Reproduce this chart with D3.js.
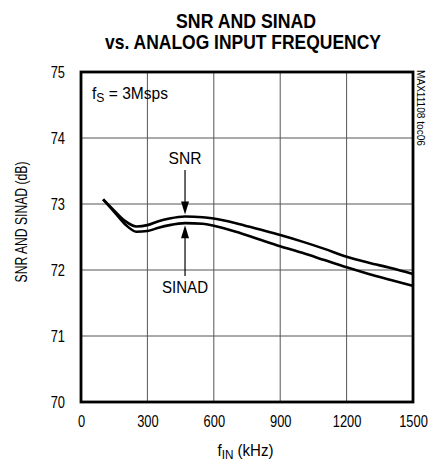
<!DOCTYPE html>
<html><head><meta charset="utf-8">
<script src="https://cdn.jsdelivr.net/npm/d3@7/dist/d3.min.js"></script>
<style>
body{margin:0;background:#fff;}
text{font-family:"Liberation Sans",Arial,sans-serif;fill:#000;}
</style></head><body>
<svg id="c" width="430" height="461"></svg>
<script>
const freqs = [100, 150, 200, 250, 300, 350, 400, 470, 550, 600, 700, 800, 900, 1000, 1100, 1200, 1300, 1400, 1500];
const snr   = [73.07, 72.9, 72.74, 72.66, 72.68, 72.74, 72.78, 72.81, 72.8, 72.78, 72.71, 72.62, 72.53, 72.43, 72.32, 72.2, 72.11, 72.03, 71.94];
const sinad = [73.07, 72.88, 72.69, 72.58, 72.59, 72.64, 72.68, 72.71, 72.7, 72.67, 72.58, 72.47, 72.36, 72.26, 72.15, 72.04, 71.94, 71.85, 71.76];
const xTicks = [0, 300, 600, 900, 1200, 1500];
const yTicks = [70, 71, 72, 73, 74, 75];

const K = 0.78; // narrow-font emulation for tick digits
const svg = d3.select("#c");
const L = 81, R = 413, T = 72, B = 402;
const x = d3.scaleLinear().domain([0, 1500]).range([L, R]);
const y = d3.scaleLinear().domain([70, 75]).range([B, T]);

// text of a given overall width (condensed font emulation)
function label(px, py, size, width, anchor, rot, build) {
  const t = svg.append("text").attr("text-anchor", anchor).attr("font-size", size);
  build(t);
  const w = t.node().getComputedTextLength();
  const k = width / w;
  t.attr("transform", `translate(${px},${py})${rot ? ` rotate(${rot})` : ""} scale(${k},1)`);
  return t;
}

// grid
svg.append("g").selectAll("line").data(xTicks.slice(1, -1)).join("line")
  .attr("x1", d => x(d)).attr("x2", d => x(d)).attr("y1", T).attr("y2", B)
  .attr("stroke", "#555").attr("stroke-width", 1);
svg.append("g").selectAll("line").data(yTicks.slice(1, -1)).join("line")
  .attr("x1", L).attr("x2", R).attr("y1", d => y(d)).attr("y2", d => y(d))
  .attr("stroke", "#555").attr("stroke-width", 1);

// axes labels via d3 axes (no lines)
const xa = svg.append("g").attr("transform", `translate(0,${B})`)
  .call(d3.axisBottom(x).tickValues(xTicks).tickFormat(d3.format("d")).tickSize(0).tickPadding(13));
xa.select(".domain").remove();
xa.selectAll("text").attr("font-size", 16.5).style("font-family", null).attr("transform", `scale(${K},1)`);
const ya = svg.append("g").attr("transform", `translate(${L},0)`)
  .call(d3.axisLeft(y).tickValues(yTicks).tickFormat(d3.format("d")).tickSize(0));
ya.select(".domain").remove();
ya.selectAll("text").attr("font-size", 16.5).style("font-family", null)
  .attr("x", -16 / K).attr("transform", `scale(${K},1)`);

// curves
const line = d3.line().x(d => x(d[0])).y(d => y(d[1])).curve(d3.curveMonotoneX);
svg.append("path").datum(freqs.map((f, i) => [f, snr[i]])).attr("d", line)
  .attr("fill", "none").attr("stroke", "#000").attr("stroke-width", 2.6);
svg.append("path").datum(freqs.map((f, i) => [f, sinad[i]])).attr("d", line)
  .attr("fill", "none").attr("stroke", "#000").attr("stroke-width", 2.6);

// frame
svg.append("rect").attr("x", L).attr("y", T).attr("width", R - L).attr("height", B - T)
  .attr("fill", "none").attr("stroke", "#000").attr("stroke-width", 2.8);

// annotations
const ax = 470;
const ySnr = y(72.81) - 2, ySin = y(72.71) + 2;
svg.append("line").attr("x1", x(ax)).attr("x2", x(ax)).attr("y1", 170).attr("y2", ySnr - 8).attr("stroke", "#000").attr("stroke-width", 1.2);
svg.append("path").attr("d", `M${x(ax)-4},${ySnr-13} L${x(ax)+4},${ySnr-13} L${x(ax)},${ySnr} Z`).attr("fill", "#000");
svg.append("line").attr("x1", x(ax)).attr("x2", x(ax)).attr("y1", ySin + 8).attr("y2", 276).attr("stroke", "#000").attr("stroke-width", 1.2);
svg.append("path").attr("d", `M${x(ax)-4},${ySin+13} L${x(ax)+4},${ySin+13} L${x(ax)},${ySin} Z`).attr("fill", "#000");
label(x(ax), 164, 16, 33, "middle", 0, t => t.text("SNR"));
label(x(ax), 293, 16, 46, "middle", 0, t => t.text("SINAD"));

// fs label
label(92, 98.5, 16, 76, "start", 0, t => {
  t.append("tspan").text("f");
  t.append("tspan").attr("font-size", 12.5).attr("dy", 3).text("S");
  t.append("tspan").attr("dy", -3).text(" = 3Msps");
});

// titles
label(246, 28, 20, 140, "middle", 0, t => t.attr("font-weight", "bold").text("SNR AND SINAD"));
label(243, 49, 20, 276, "middle", 0, t => t.attr("font-weight", "bold").text("vs. ANALOG INPUT FREQUENCY"));

// axis titles
label(245.5, 456, 16, 56, "middle", 0, t => {
  t.append("tspan").text("f");
  t.append("tspan").attr("font-size", 12.5).attr("dy", 3).text("IN");
  t.append("tspan").attr("dy", -3).text(" (kHz)");
});
label(27, 222, 16, 121, "middle", -90, t => t.text("SNR AND SINAD (dB)"));

label(416.5, 70, 11.5, 76, "start", 90, t => t.text("MAX11108 toc06"));
</script></body></html>
